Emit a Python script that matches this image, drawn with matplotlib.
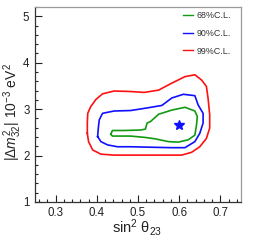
import matplotlib
matplotlib.use("Agg")
import matplotlib.pyplot as plt
from matplotlib.ticker import MultipleLocator

plt.rcParams['font.family'] = ['Liberation Sans', 'DejaVu Sans']
plt.rcParams['mathtext.fontset'] = 'custom'
plt.rcParams['mathtext.rm'] = 'Liberation Sans'
plt.rcParams['mathtext.it'] = 'Liberation Sans:italic'
plt.rcParams['mathtext.bf'] = 'Liberation Sans:bold'

# 99% C.L. contour
red_x = [0.377, 0.377, 0.378, 0.385, 0.398, 0.414, 0.442, 0.482, 0.515, 0.550, 0.582,
         0.614, 0.638, 0.654, 0.666, 0.670, 0.674, 0.674, 0.666, 0.650, 0.630, 0.606,
         0.566, 0.530, 0.482, 0.442, 0.410, 0.390, 0.380, 0.377]
red_y = [2.48, 2.70, 2.91, 3.05, 3.21, 3.33, 3.39, 3.38, 3.36, 3.41, 3.56,
         3.70, 3.74, 3.63, 3.49, 3.24, 2.88, 2.59, 2.37, 2.19, 2.07, 2.01,
         2.01, 2.01, 2.01, 2.01, 2.03, 2.12, 2.30, 2.48]
# 90% C.L. contour
blue_x = [0.402, 0.404, 0.406, 0.414, 0.442, 0.482, 0.518, 0.558, 0.582, 0.610, 0.638,
          0.646, 0.658, 0.658, 0.650, 0.638, 0.614, 0.582, 0.530, 0.482, 0.450, 0.426,
          0.410, 0.402]
blue_y = [2.41, 2.62, 2.77, 2.91, 2.96, 2.97, 3.02, 3.08, 3.24, 3.32, 3.29,
          3.09, 2.91, 2.70, 2.48, 2.30, 2.17, 2.17, 2.18, 2.19, 2.19, 2.23,
          2.30, 2.41]
# 68% C.L. contour
green_x = [0.434, 0.438, 0.466, 0.506, 0.518, 0.522, 0.530, 0.550, 0.582, 0.614, 0.638,
           0.644, 0.642, 0.638, 0.622, 0.598, 0.574, 0.542, 0.518, 0.482, 0.438, 0.434]
green_y = [2.46, 2.54, 2.54, 2.55, 2.57, 2.70, 2.73, 2.89, 2.98, 3.04, 2.96,
           2.84, 2.66, 2.44, 2.34, 2.29, 2.30, 2.36, 2.39, 2.42, 2.42, 2.46]
# best fit
best_x = [0.60]
best_y = [2.65]

labels = ['68%C.L.', '90%C.L.', '99%C.L.']
colors = ['#139a13', '#1010ff', '#ff1010']

fig = plt.figure(figsize=(2.57, 2.42), dpi=100)
ax = fig.add_axes([35/257, 40/242, 206/257, 195/242])

ax.plot(green_x, green_y, color=colors[0], lw=1.2, label=labels[0])
ax.plot(blue_x, blue_y, color=colors[1], lw=1.2, label=labels[1])
ax.plot(red_x, red_y, color=colors[2], lw=1.2, label=labels[2])
ax.plot(best_x, best_y, marker='*', color='#1010ff', ms=7, ls='none')

ax.set_xlim(0.25, 0.75)
ax.set_ylim(1, 5.2)
ax.xaxis.set_major_locator(MultipleLocator(0.1))
ax.xaxis.set_minor_locator(MultipleLocator(0.02))
ax.yaxis.set_major_locator(MultipleLocator(1))
ax.yaxis.set_minor_locator(MultipleLocator(0.2))
ax.tick_params(which='both', direction='in', top=False, right=False,
               labelsize=8.3, colors='#222222', width=0.8)
ax.tick_params(which='major', length=5)
ax.tick_params(which='minor', length=2.5)
ax.tick_params(axis='x', pad=3.5)
ax.tick_params(axis='y', pad=4)
ax.set_xticks([0.3, 0.4, 0.5, 0.6, 0.7])
ax.set_xticklabels(['0.3', '0.4', '0.5', '0.6', '0.7'])
for s in ['left', 'bottom']:
    ax.spines[s].set_color('#333333')
    ax.spines[s].set_linewidth(0.9)
for s in ['top', 'right']:
    ax.spines[s].set_color('#999999')
    ax.spines[s].set_linewidth(0.9)

fig.text(137.5/257, 1 - 228/242, r'sin$^2$ θ$_{23}$', ha='center', va='center',
         fontsize=10.5, color='#222222')
fig.text(13/257, 1 - 111.7/242, r'$|\Delta m^2_{32}|$ 10$^{-3}$ eV$^2$', rotation=90,
         ha='center', va='center', fontsize=10, color='#222222')

ax.legend(loc='upper left', bbox_to_anchor=(183.3/257, 1 - 10.8/242),
          bbox_transform=fig.transFigure, frameon=False, fontsize=6.4,
          handlelength=1.1, handletextpad=0.4, labelspacing=1.0,
          borderpad=0, borderaxespad=0)
for t in ax.get_legend().get_texts():
    t.set_color('#333333')
for l in ax.get_legend().get_lines():
    l.set_linewidth(1.0)

fig.savefig('out.png', dpi=100)
